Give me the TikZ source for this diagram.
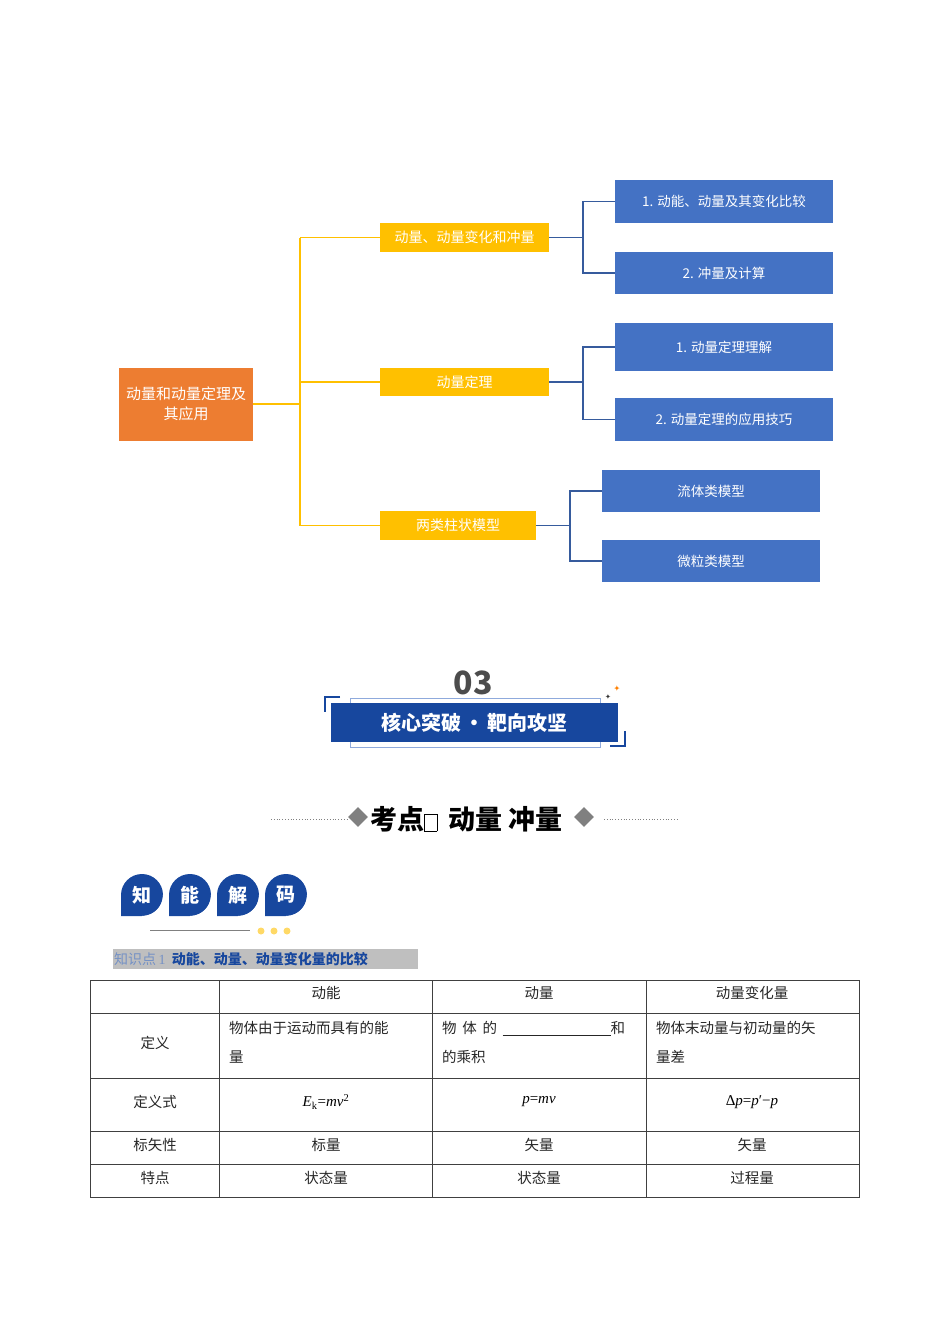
\documentclass[tikz,border=0pt]{standalone}
\usepackage{fontspec}
\setmainfont{Liberation Serif}
\newfontfamily\cjk{Noto Sans CJK SC}
\newfontfamily\djv{DejaVu Sans}
\definecolor{yel}{HTML}{FFC000}
\definecolor{blu}{HTML}{4472C4}
\definecolor{org}{HTML}{ED7D31}
\definecolor{dblu}{HTML}{17479E}
\begin{document}
\begin{tikzpicture}[x=1pt,y=-1pt,
 yb/.style={fill=yel,draw=none,text=white,font=\cjk\fontsize{14}{16}\selectfont,inner sep=0},
 bb/.style={fill=blu,draw=none,text=white,font=\cjk\fontsize{13.5}{16}\selectfont,inner sep=0},
 yl/.style={draw=yel,line width=1.3pt},
 bl/.style={draw=blu!80!black,line width=1.1pt},
 kb/.style={circle,minimum size=42pt,inner sep=0,text=white,font=\cjk\bfseries\fontsize{19}{20}\selectfont},
 tt/.style={font=\cjk\fontsize{14.5}{16}\selectfont,inner sep=0,text=black!85},
 mt/.style={inner sep=0,font=\fontsize{15}{16}\selectfont}]
\useasboundingbox (0,0) rectangle (950,1344);
% mind map
\node[fill=org,text=white,minimum width=134pt,minimum height=73pt,inner sep=0,align=center,font=\cjk\fontsize{15}{20}\selectfont] (root) at (186,404) {动量和动量定理及\\其应用};
\node[yb,minimum width=169pt,minimum height=29pt] (a) at (464.5,237.5) {动量、动量变化和冲量};
\node[yb,minimum width=169pt,minimum height=28pt] (b) at (464.5,382) {动量定理};
\node[yb,minimum width=156pt,minimum height=29pt] (c) at (458,525.5) {两类柱状模型};
\coordinate (t) at (300,404);
\draw[yl] (root.east) -- (t);
\draw[yl] (300,237.5) -- (300,525.5);
\draw[yl] (300,237.5) -- (a.west);
\draw[yl] (300,382) -- (b.west);
\draw[yl] (300,525.5) -- (c.west);
\node[bb,minimum width=218pt,minimum height=43pt] (a1) at (724,201.5) {1. 动能、动量及其变化比较};
\node[bb,minimum width=218pt,minimum height=42pt] (a2) at (724,273) {2. 冲量及计算};
\node[bb,minimum width=218pt,minimum height=48pt] (b1) at (724,347) {1. 动量定理理解};
\node[bb,minimum width=218pt,minimum height=43pt] (b2) at (724,419.5) {2. 动量定理的应用技巧};
\node[bb,minimum width=218pt,minimum height=42pt] (c1) at (711,491) {流体类模型};
\node[bb,minimum width=218pt,minimum height=42pt] (c2) at (711,561) {微粒类模型};
\draw[bl] (a.east) -- (583,237.5); \draw[bl] (a1.west) -| (583,273) -- (a2.west);
\draw[bl] (b.east) -- (583,382); \draw[bl] (b1.west) -| (583,419.5) -- (b2.west);
\draw[bl] (c.east) -- (570,525.5); \draw[bl] (c1.west) -| (570,561) -- (c2.west);
% banner
\node[text=black!70,font=\cjk\bfseries\fontsize{32}{34}\selectfont] (n03) at (473,683) {03};
\draw[draw=blu!60,line width=0.8pt] (350,698) rectangle (600,747);
\node[fill=dblu,minimum width=287pt,minimum height=39pt,inner sep=0,text=white,font=\cjk\bfseries\fontsize{20}{22}\selectfont] (ban) at (474.5,722.5) {核心突破\,·\,靶向攻坚};
\draw[dblu,line width=1.2pt] (340,697) -- (325,697) -- (325,712);
\draw[dblu,line width=1.2pt] (610,746) -- (625,746) -- (625,731);
\node[text=black!80,font=\djv\fontsize{7}{7}\selectfont,inner sep=0] (s1) at (608,697) {✦};
\node[text=orange,font=\djv\fontsize{8}{8}\selectfont,inner sep=0] (s2) at (617,689) {✦};
% heading
\draw[gray,dotted,line width=0.8pt] (271,819) -- (347,819);
\draw[gray,dotted,line width=0.8pt] (604,819) -- (679,819);
\node[fill=gray,rotate=45,minimum size=14pt,inner sep=0] (d1) at (358,817) {};
\node[fill=gray,rotate=45,minimum size=14pt,inner sep=0] (d2) at (584,817) {};
\node[font=\cjk\bfseries\fontsize{27}{28}\selectfont,inner sep=0,anchor=west] (hd) at (370,819) {考点\raisebox{1pt}{\fbox{\rule{0pt}{11pt}\hspace{6pt}}}\hspace{11pt}动量 冲量};
% 知能解码
\foreach \x/\t/\n in {142/知/k1,190/能/k2,238/解/k3,286/码/k4}{
 \fill[dblu] (\x-21,895) -- (\x-21,916) -- (\x,916) arc (90:-180:21) -- cycle;
 \draw[white,line width=1.2pt] (\x+21.6,895) arc (0:90:21.6);
 \node[kb] (\n) at (\x,895) {\t};}
\draw[gray,line width=0.9pt] (150,930) -- (250,930);
\foreach \x in {261,274,287} \fill[yel!60] (\x,931) circle (3.5);
\fill[black!25] (113,949) rectangle (418,969);
\node[anchor=west,inner sep=0,text=dblu!60] (k) at (114,959) {\cjk\fontsize{14}{16}\selectfont 知识点\,{\fontspec{Liberation Serif}1}\ \ \textcolor{dblu}{\bfseries 动能、动量、动量变化量的比较}};
% table
\draw[black!75,line width=0.7pt] (90,980) rectangle (859,1197);
\foreach \y in {1013,1078,1131,1164} \draw[black!75,line width=0.7pt] (90,\y) -- (859,\y);
\foreach \x in {219,432,646} \draw[black!75,line width=0.7pt] (\x,980) -- (\x,1197);
\node[tt] (h1) at (326,993) {动能}; \node[tt] (h2) at (539,993) {动量}; \node[tt] (h3) at (752,993) {动量变化量};
\node[tt] (r1) at (155,1043) {定义};
\node[tt,anchor=west] (r1a) at (229,1028) {物体由于运动而具有的能}; \node[tt,anchor=west] at (229,1057) {量};
\node[tt,anchor=west] (r1b) at (442,1028) {物\ \,体\ \,的\ \,\rule[-2pt]{108pt}{0.6pt}和}; \node[tt,anchor=west] at (442,1057) {的乘积};
\node[tt,anchor=west] (r1c) at (656,1028) {物体末动量与初动量的矢}; \node[tt,anchor=west] at (656,1057) {量差};
\node[tt] (r2) at (155,1102) {定义式};
\node[mt] at (326,1102) {\textit{E}\textsubscript{k}=\textit{mv}\textsuperscript{2}};
\node[mt] at (539,1102) {\textit{p}=\textit{mv}};
\node[mt] at (752,1102) {Δ\textit{p}=\textit{p}′−\textit{p}};
\node[tt] (r3) at (155,1145) {标矢性}; \node[tt] at (326,1145) {标量}; \node[tt] at (539,1145) {矢量}; \node[tt] at (752,1145) {矢量};
\node[tt] (r4) at (155,1178) {特点}; \node[tt] at (326,1178) {状态量}; \node[tt] at (539,1178) {状态量}; \node[tt] at (752,1178) {过程量};
\end{tikzpicture}
\end{document}
